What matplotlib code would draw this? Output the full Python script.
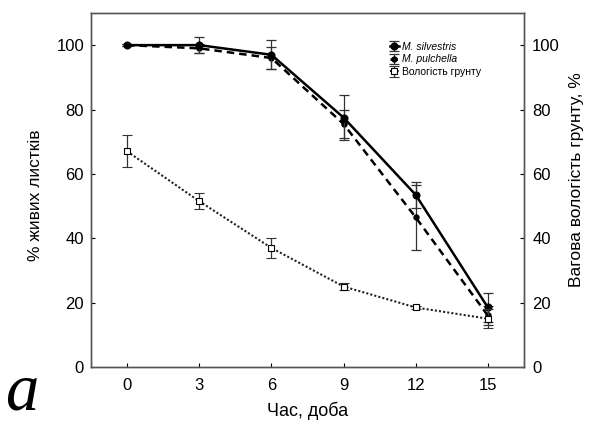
import matplotlib
matplotlib.use("Agg")
import matplotlib.pyplot as plt

plt.rcParams['font.family'] = ['Liberation Sans', 'DejaVu Sans']

days = [0, 3, 6, 9, 12, 15]
silvestris = [100, 100, 97, 77.5, 53.5, 18.5]
silvestris_err = [0.3, 2.5, 4.5, 7, 4, 4.5]
pulchella = [100, 99, 96, 75.5, 46.5, 16]
pulchella_err = [0.3, 1.5, 3.5, 4.5, 10, 3]
soil = [67, 51.5, 37, 25, 18.5, 15]
soil_err = [5, 2.5, 3, 1.2, 0.6, 3]
xticks = [0, 3, 6, 9, 12, 15]
yticks = [0, 20, 40, 60, 80, 100]

fig = plt.figure(figsize=(5.89, 4.23), dpi=100)
ax = fig.add_axes([0.1545, 0.1324, 0.735, 0.837])
ax2 = ax.twinx()

h1 = ax.errorbar(days, silvestris, yerr=silvestris_err, color='black', lw=1.8,
                 marker='o', ms=4.8, mfc='black', ecolor='#333333', elinewidth=0.9,
                 capsize=3.5, capthick=0.9, label='M. silvestris', zorder=4)
h2 = ax.errorbar(days, pulchella, yerr=pulchella_err, color='black', lw=1.8, ls=(0, (3, 2)),
                 marker='o', ms=3.6, mfc='black', ecolor='#333333', elinewidth=0.9,
                 capsize=3.5, capthick=0.9, label='M. pulchella', zorder=3)
h3 = ax2.errorbar(days, soil, yerr=soil_err, color='#222222', lw=1.5, ls=(0, (1, 1)),
                  marker='s', ms=4.0, mfc='white', mec='black', mew=0.8, ecolor='#333333',
                  elinewidth=0.9, capsize=3.5, capthick=0.9, label='Вологість грунту')

for a in (ax, ax2):
    a.set_ylim(0, 110)
    a.set_yticks(yticks)
    a.tick_params(direction='in', length=3, width=0.8, labelsize=12, colors='black')
    for s in a.spines.values():
        s.set_color('#555555')
        s.set_linewidth(1.0)
ax.set_xlim(-1.5, 16.5)
ax.set_xticks(xticks)
ax.tick_params(axis='x', pad=8)
ax.tick_params(axis='y', pad=5)
ax2.tick_params(axis='y', pad=6)

ax.set_xlabel('Час, доба', fontsize=13, labelpad=6)
ax.set_ylabel('% живих листків', fontsize=12.5, labelpad=7)
ax2.set_ylabel('Вагова вологість грунту, %', fontsize=12.5, labelpad=8)
ax.yaxis.set_label_coords(-0.112, 0.485)
ax2.yaxis.set_label_coords(1.104, 0.53)

leg = ax.legend([h1, h2, h3], ['M. silvestris', 'M. pulchella', 'Вологість грунту'],
                loc='upper right', bbox_to_anchor=(0.91, 0.93), frameon=False,
                fontsize=7.5, handlelength=0.8, handletextpad=0.3, labelspacing=0.25,
                borderaxespad=0)
for t in leg.get_texts()[:2]:
    t.set_fontstyle('italic')

fig.text(0.008, 0.0, 'a', family='Liberation Serif', style='italic', fontsize=48,
         ha='left', va='bottom')

fig.savefig('out.png', dpi=100)
